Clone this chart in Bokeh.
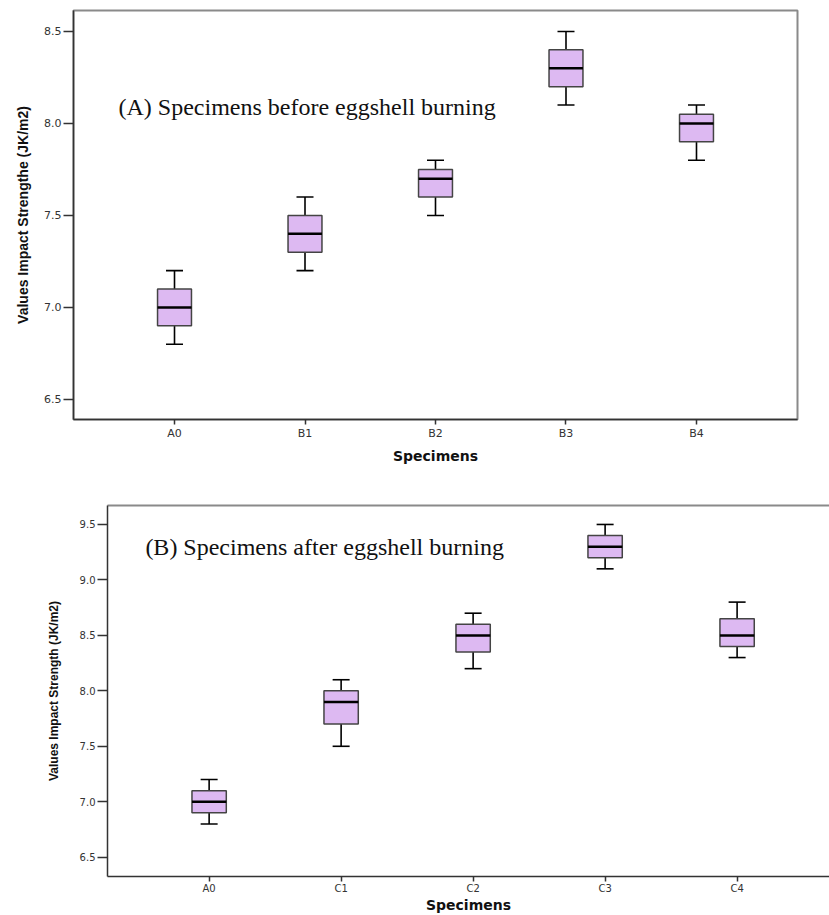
from bokeh.plotting import figure
from bokeh.models import (ColumnDataSource, FixedTicker, PrintfTickFormatter, Label,
                          LinearAxis, Range1d, Whisker, TeeHead)
from bokeh.layouts import column, row
from bokeh.embed import file_html
from bokeh.resources import INLINE

# ---------------- data ----------------
cats_a = ["A0", "B1", "B2", "B3", "B4"]
low_a = [6.8, 7.2, 7.5, 8.1, 7.8]
q1_a = [6.9, 7.3, 7.6, 8.2, 7.9]
med_a = [7.0, 7.4, 7.7, 8.3, 8.0]
q3_a = [7.1, 7.5, 7.75, 8.4, 8.05]
high_a = [7.2, 7.6, 7.8, 8.5, 8.1]
yticks_a = [6.5, 7.0, 7.5, 8.0, 8.5]
title_a = "(A) Specimens before eggshell burning"
ylabel_a = "Values Impact Strengthe (JK/m2)"

cats_b = ["A0", "C1", "C2", "C3", "C4"]
low_b = [6.8, 7.5, 8.2, 9.1, 8.3]
q1_b = [6.9, 7.7, 8.35, 9.2, 8.4]
med_b = [7.0, 7.9, 8.5, 9.3, 8.5]
q3_b = [7.1, 8.0, 8.6, 9.4, 8.65]
high_b = [7.2, 8.1, 8.7, 9.5, 8.8]
yticks_b = [6.5, 7.0, 7.5, 8.0, 8.5, 9.0, 9.5]
title_b = "(B) Specimens after eggshell burning"
ylabel_b = "Values Impact Strength (JK/m2)"

xlabel = "Specimens"

BOX_FILL = "#DDB9F2"
BOX_W = 0.26


def make_panel(cats, low, q1, med, q3, high, yticks, title, ylabel,
               width, height, xr, yr, borders, tick_font, ylab_font,
               ylab_standoff, title_xy, right_line, xlab_standoff, xtick_standoff):
    xs = list(range(len(cats)))
    src = ColumnDataSource(dict(
        x=xs, low=low, q1=q1, med=med, q3=q3, high=high,
        mx0=[v - BOX_W / 2 for v in xs], mx1=[v + BOX_W / 2 for v in xs],
    ))
    p = figure(width=width, height=height, output_backend="svg", toolbar_location=None,
               x_range=Range1d(*xr), y_range=Range1d(*yr),
               min_border_left=borders[0], min_border_right=borders[1],
               min_border_top=borders[2], min_border_bottom=borders[3],
               background_fill_color="white", border_fill_color="white")
    p.xgrid.visible = False
    p.ygrid.visible = False

    wh = Whisker(source=src, base="x", upper="high", lower="low",
                 line_color="black", line_width=1.6, level="underlay",
                 upper_head=TeeHead(size=17, line_color="black", line_width=1.6),
                 lower_head=TeeHead(size=17, line_color="black", line_width=1.6))
    p.add_layout(wh)
    p.vbar(x="x", width=BOX_W, top="q3", bottom="q1", source=src,
           fill_color=BOX_FILL, line_color="#444444", line_width=1.5)
    p.segment(x0="mx0", x1="mx1", y0="med", y1="med", source=src,
              line_color="black", line_width=2.5)

    # x axis (bottom)
    xa = p.below[0]
    xa.ticker = FixedTicker(ticks=xs)
    xa.major_label_overrides = {i: c for i, c in zip(xs, cats)}
    xa.major_tick_in = 0
    xa.major_tick_out = 5
    xa.minor_tick_line_color = None
    xa.axis_line_color = "#333333"
    xa.axis_line_width = 1.5
    xa.major_tick_line_color = "#333333"
    xa.major_tick_line_width = 1.5
    xa.major_label_text_font = "DejaVu Sans"
    xa.major_label_text_font_size = tick_font
    xa.major_label_text_color = "#333333"
    xa.major_label_standoff = xtick_standoff
    xa.axis_label = xlabel
    xa.axis_label_text_font = "DejaVu Sans"
    xa.axis_label_text_font_style = "bold"
    xa.axis_label_text_font_size = "14px"
    xa.axis_label_text_color = "#111111"
    xa.axis_label_standoff = xlab_standoff

    # y axis (left)
    ya = p.left[0]
    ya.ticker = FixedTicker(ticks=yticks)
    ya.formatter = PrintfTickFormatter(format="%.1f")
    ya.major_tick_in = 0
    ya.major_tick_out = 10
    ya.minor_tick_line_color = None
    ya.axis_line_color = "#333333"
    ya.axis_line_width = 1.5
    ya.major_tick_line_color = "#333333"
    ya.major_tick_line_width = 1.5
    ya.major_label_text_font = "DejaVu Sans"
    ya.major_label_text_font_size = tick_font
    ya.major_label_text_color = "#333333"
    ya.major_label_standoff = 2
    ya.axis_label = ylabel
    ya.axis_label_text_font = "Liberation Sans"
    ya.axis_label_text_font_style = "bold"
    ya.axis_label_text_font_size = ylab_font
    ya.axis_label_text_color = "#111111"
    ya.axis_label_standoff = ylab_standoff

    if right_line:
        p.outline_line_color = "#8a8a8a"
        p.outline_line_width = 2
    else:
        p.outline_line_color = None
        top_ax = LinearAxis(ticker=FixedTicker(ticks=[]), axis_line_color="#8a8a8a",
                            axis_line_width=2, major_tick_line_color=None,
                            minor_tick_line_color=None, major_label_text_color=None)
        p.add_layout(top_ax, "above")

    lab = Label(x=title_xy[0], y=title_xy[1], text=title, text_font="Liberation Serif",
                text_font_size="24px", text_color="#111111", text_align="left",
                text_baseline="alphabetic")
    p.add_layout(lab)
    return p


p1 = make_panel(cats_a, low_a, q1_a, med_a, q3_a, high_a, yticks_a, title_a, ylabel_a,
                width=829, height=468, xr=(-0.774, 4.774), yr=(6.391, 8.614),
                borders=(73, 32, 10, 49), tick_font="11px", ylab_font="14px",
                ylab_standoff=10, title_xy=(-0.429, 8.092), right_line=True,
                xlab_standoff=5, xtick_standoff=2)

p2 = make_panel(cats_b, low_b, q1_b, med_b, q3_b, high_b, yticks_b, title_b, ylabel_b,
                width=829, height=447, xr=(-0.77, 4.70), yr=(6.326, 9.671),
                borders=(107, 0, 37, 39), tick_font="10px", ylab_font="12px",
                ylab_standoff=16, title_xy=(-0.483, 9.30), right_line=False,
                xlab_standoff=0, xtick_standoff=1)

layout = column(row(p1), row(p2), spacing=0)
open("out.html", "w").write(file_html(layout, INLINE))
